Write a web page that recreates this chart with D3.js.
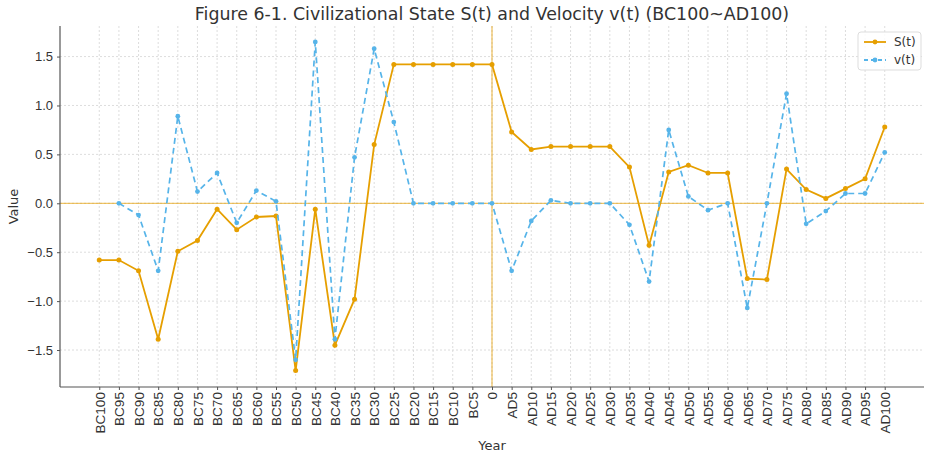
<!DOCTYPE html>
<html>
<head>
<meta charset="utf-8">
<script src="https://cdn.jsdelivr.net/npm/d3@7"></script>
<style>
  body { margin: 0; background: #fff; }
  svg { display: block; font-family: "DejaVu Sans", sans-serif; }
</style>
</head>
<body>
<svg id="chart" width="926" height="453"></svg>
<script>
const years = ["BC100","BC95","BC90","BC85","BC80","BC75","BC70","BC65","BC60","BC55","BC50","BC45","BC40","BC35","BC30","BC25","BC20","BC15","BC10","BC5","0","AD5","AD10","AD15","AD20","AD25","AD30","AD35","AD40","AD45","AD50","AD55","AD60","AD65","AD70","AD75","AD80","AD85","AD90","AD95","AD100"];
const sValues = [-0.58,-0.58,-0.69,-1.39,-0.49,-0.38,-0.06,-0.27,-0.14,-0.13,-1.71,-0.06,-1.45,-0.98,0.60,1.42,1.42,1.42,1.42,1.42,1.42,0.73,0.55,0.58,0.58,0.58,0.58,0.37,-0.43,0.32,0.39,0.31,0.31,-0.77,-0.78,0.35,0.14,0.05,0.15,0.25,0.78];
const vValues = [null,0.00,-0.12,-0.69,0.89,0.12,0.31,-0.20,0.13,0.02,-1.60,1.65,-1.39,0.47,1.58,0.83,0.00,0.00,0.00,0.00,0.00,-0.69,-0.18,0.03,0.00,0.00,0.00,-0.22,-0.80,0.75,0.07,-0.07,0.00,-1.07,0.00,1.12,-0.21,-0.08,0.10,0.10,0.52];
const yTicks = [-1.5,-1.0,-0.5,0.0,0.5,1.0,1.5];
const titleText = "Figure 6-1. Civilizational State S(t) and Velocity v(t) (BC100~AD100)";
const seriesNames = ["S(t)","v(t)"];

const svg = d3.select("#chart");
const W = 926, H = 453;
const m = {left: 60, right: 2, top: 26, bottom: 66};
const iw = W - m.left - m.right, ih = H - m.top - m.bottom;
const cS = "#E69F00", cV = "#56B4E9";

const x = d3.scaleLinear().domain([-2, years.length + 1]).range([m.left, m.left + iw]);
const y = d3.scaleLinear().domain([-1.878, 1.8125]).range([m.top + ih, m.top]);

// grid
const g = svg.append("g");
g.selectAll(".vg").data(years).enter().append("line")
  .attr("x1", (d,i)=>x(i)).attr("x2", (d,i)=>x(i))
  .attr("y1", m.top).attr("y2", m.top+ih)
  .attr("stroke", "#d4d4d4").attr("stroke-width", 0.8).attr("stroke-dasharray", "2,2");
g.selectAll(".hg").data(yTicks).enter().append("line")
  .attr("x1", m.left).attr("x2", m.left+iw)
  .attr("y1", d=>y(d)).attr("y2", d=>y(d))
  .attr("stroke", "#d4d4d4").attr("stroke-width", 0.8).attr("stroke-dasharray", "2,2");

// reference lines
svg.append("line").attr("x1", m.left).attr("x2", m.left+iw).attr("y1", y(0)).attr("y2", y(0))
  .attr("stroke", cS).attr("stroke-opacity", 0.6).attr("stroke-width", 1.3);
svg.append("line").attr("x1", x(years.indexOf("0"))).attr("x2", x(years.indexOf("0")))
  .attr("y1", m.top).attr("y2", m.top+ih)
  .attr("stroke", cS).attr("stroke-opacity", 0.6).attr("stroke-width", 1.3);

// axes
const xAxis = d3.axisBottom(x).tickValues(d3.range(years.length)).tickFormat(i=>years[i]).tickSize(3).tickPadding(3);
const xg = svg.append("g").attr("transform", `translate(0,${m.top+ih})`).call(xAxis);
xg.select(".domain").attr("stroke", "#555").attr("stroke-width", 1.2).attr("d", `M${m.left},0H${m.left+iw}`);
xg.selectAll(".tick line").attr("stroke", "#555");
xg.selectAll(".tick text").attr("font-size", 13.6).attr("fill", "#333")
  .attr("transform", "rotate(-90)").attr("text-anchor", "end")
  .attr("x", -5).attr("y", 0).attr("dy", "0.35em");

const yAxis = d3.axisLeft(y).tickValues(yTicks).tickFormat(d=>d.toFixed(1).replace("-", "\u2212")).tickSize(3).tickPadding(4);
const yg = svg.append("g").attr("transform", `translate(${m.left},0)`).call(yAxis);
yg.select(".domain").attr("stroke", "#555").attr("stroke-width", 1.2).attr("d", `M0,${m.top}V${m.top+ih}`);
yg.selectAll(".tick line").attr("stroke", "#555");
yg.selectAll(".tick text").attr("font-size", 13).attr("fill", "#333");

// lines
const line = d3.line().defined(d=>d[1]!==null).x(d=>x(d[0])).y(d=>y(d[1]));
const sData = sValues.map((v,i)=>[i,v]);
const vData = vValues.map((v,i)=>[i,v]);
svg.append("path").datum(sData).attr("d", line).attr("fill","none").attr("stroke", cS).attr("stroke-width", 1.8);
svg.selectAll(".sd").data(sData).enter().append("circle").attr("cx", d=>x(d[0])).attr("cy", d=>y(d[1])).attr("r", 2.5).attr("fill", cS);
svg.append("path").datum(vData).attr("d", line).attr("fill","none").attr("stroke", cV).attr("stroke-width", 1.7).attr("stroke-dasharray","6,4");
svg.selectAll(".vd").data(vData.filter(d=>d[1]!==null)).enter().append("circle").attr("cx", d=>x(d[0])).attr("cy", d=>y(d[1])).attr("r", 2.4).attr("fill", cV);

// title & labels
svg.append("text").attr("x", m.left + iw/2).attr("y", 20).attr("text-anchor","middle")
  .attr("font-size", 17.4).attr("fill", "#333").text(titleText);
svg.append("text").attr("transform", `translate(18,${m.top+ih/2}) rotate(-90)`).attr("text-anchor","middle")
  .attr("font-size", 13).attr("fill", "#333").text("Value");
svg.append("text").attr("x", m.left + iw/2).attr("y", 450).attr("text-anchor","middle")
  .attr("font-size", 13).attr("fill", "#333").text("Year");

// legend
const lg = svg.append("g").attr("transform", "translate(858,32)");
lg.append("rect").attr("width", 63).attr("height", 38).attr("rx", 3)
  .attr("fill", "#fff").attr("fill-opacity", 0.85).attr("stroke", "#ddd");
[[cS, null], [cV, "4,3"]].forEach((s, k) => {
  const yy = 10 + k*18;
  lg.append("line").attr("x1", 6).attr("x2", 28).attr("y1", yy).attr("y2", yy)
    .attr("stroke", s[0]).attr("stroke-width", 1.8).attr("stroke-dasharray", s[1]);
  lg.append("circle").attr("cx", 17).attr("cy", yy).attr("r", 2.4).attr("fill", s[0]);
  lg.append("text").attr("x", 36).attr("y", yy + 4).attr("font-size", 12).attr("fill", "#333").text(seriesNames[k]);
});
</script>
</body>
</html>
